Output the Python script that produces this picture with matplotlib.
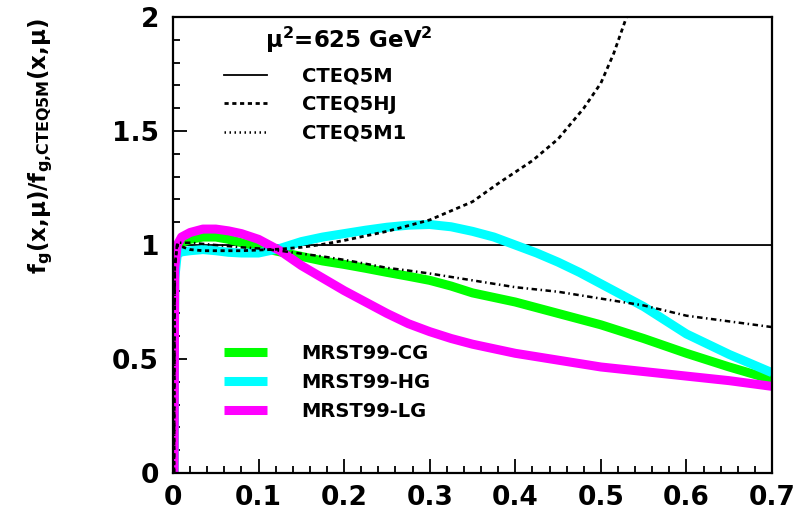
import matplotlib
matplotlib.use("Agg")
import matplotlib.pyplot as plt
from matplotlib.lines import Line2D
from matplotlib.ticker import MultipleLocator, FixedLocator

plt.rcParams['font.family'] = ['DejaVu Sans']
plt.rcParams['font.weight'] = 'bold'
plt.rcParams['mathtext.fontset'] = 'dejavusans'
plt.rcParams['mathtext.default'] = 'bf'

# gluon ratio to CTEQ5M at mu^2 = 625 GeV^2
x_grid = [0.0012, 0.002, 0.005, 0.01, 0.02, 0.035, 0.05, 0.065, 0.08, 0.1,
          0.125, 0.15, 0.175, 0.2, 0.225, 0.25, 0.275, 0.3, 0.325, 0.35,
          0.375, 0.4, 0.425, 0.45, 0.475, 0.5, 0.55, 0.6, 0.65, 0.7]

cteq5m = [0.0] + [1.0] * 29
cteq5m1 = [0.0, 0.90, 1.01, 1.01, 1.01, 1.005, 1.0, 0.995, 0.99, 0.985,
           0.975, 0.962, 0.95, 0.935, 0.918, 0.90, 0.888, 0.875, 0.86, 0.845,
           0.83, 0.815, 0.805, 0.795, 0.78, 0.765, 0.735, 0.69, 0.665, 0.64]
mrst_cg = [0.0, 0.90, 0.99, 1.01, 1.025, 1.035, 1.035, 1.025, 1.01, 0.99,
           0.97, 0.95, 0.93, 0.915, 0.898, 0.88, 0.863, 0.845, 0.82, 0.79,
           0.77, 0.75, 0.725, 0.70, 0.675, 0.65, 0.59, 0.525, 0.465, 0.41]
mrst_hg = [0.0, 0.85, 0.96, 0.97, 0.975, 0.98, 0.975, 0.968, 0.965, 0.965,
           0.985, 1.015, 1.035, 1.05, 1.065, 1.078, 1.087, 1.09, 1.08, 1.06,
           1.035, 1.0, 0.965, 0.925, 0.88, 0.83, 0.73, 0.61, 0.52, 0.44]
mrst_lg = [0.0, 0.90, 1.0, 1.035, 1.055, 1.07, 1.07, 1.062, 1.05, 1.025,
           0.975, 0.91, 0.855, 0.80, 0.75, 0.70, 0.655, 0.62, 0.59, 0.565,
           0.545, 0.525, 0.51, 0.495, 0.48, 0.465, 0.445, 0.425, 0.405, 0.38]

# CTEQ5HJ runs off the top of the frame, so it has its own x values
x_hj = [0.0012, 0.002, 0.005, 0.02, 0.035, 0.06, 0.08, 0.1, 0.125, 0.15,
        0.175, 0.2, 0.25, 0.3, 0.35, 0.38, 0.42, 0.45, 0.48, 0.5, 0.515,
        0.53, 0.54]
cteq5hj = [0.0, 0.90, 1.0, 0.98, 0.975, 0.975, 0.975, 0.978, 0.982, 0.99,
           1.003, 1.02, 1.06, 1.11, 1.19, 1.27, 1.37, 1.465, 1.6, 1.71, 1.84,
           2.0, 2.1]

x_ticks = [0, 0.1, 0.2, 0.3, 0.4, 0.5, 0.6, 0.7]
x_ticklabels = ['0', '0.1', '0.2', '0.3', '0.4', '0.5', '0.6', '0.7']
y_ticks = [0, 0.5, 1, 1.5, 2]
y_ticklabels = ['0', '0.5', '1', '1.5', '2']

fig = plt.figure(figsize=(7.99, 5.14), dpi=100)
ax = fig.add_axes([0.2165, 0.0798, 0.7497, 0.887])

thick = dict(lw=6.5, solid_capstyle='butt', solid_joinstyle='round')
l_m, = ax.plot(x_grid, cteq5m, color='black', lw=1.3, zorder=1)
l_cg, = ax.plot(x_grid, mrst_cg, color='#00ff00', zorder=2, **thick)
l_hg, = ax.plot(x_grid, mrst_hg, color='#00ffff', zorder=2, **thick)
l_lg, = ax.plot(x_grid, mrst_lg, color='#ff00ff', zorder=2.5, **thick)
l_hj, = ax.plot(x_hj, cteq5hj, color='black', lw=2, dashes=(1.5, 1.3), zorder=3)
l_m1, = ax.plot(x_grid, cteq5m1, color='black', lw=1.8,
                dashes=(2.2, 1.4, 0.6, 1.4), zorder=3)

ax.set_xlim(0, 0.7)
ax.set_ylim(0, 2)

ax.xaxis.set_major_locator(FixedLocator(x_ticks))
ax.set_xticklabels(x_ticklabels)
ax.xaxis.set_minor_locator(MultipleLocator(0.02))
ax.yaxis.set_major_locator(FixedLocator(y_ticks))
ax.set_yticklabels(y_ticklabels)
ax.yaxis.set_minor_locator(MultipleLocator(0.1))

ax.tick_params(which='both', direction='in', top=False, right=False,
               labelsize=19, width=1.3)
ax.tick_params(which='major', length=10)
ax.tick_params(which='minor', length=5)
ax.tick_params(axis='x', which='major', pad=9)
ax.tick_params(axis='y', which='major', pad=10)
for s in ax.spines.values():
    s.set_linewidth(1.6)

ax.set_ylabel(r'$f_g(x{,}\mu)/f_{g{,}CTEQ5M}(x{,}\mu)$', fontsize=16.5)
ax.yaxis.set_label_coords(-0.197, 0.717)

ax.text(0.154, 0.932, r'$\mu^2$=625 GeV$^2$', transform=ax.transAxes,
        fontsize=16.5, ha='left', va='baseline')

hj_handle = Line2D([], [], color='black', lw=2, dashes=(1.5, 1.3))
m1_handle = Line2D([], [], color='black', lw=1.8, dashes=(0.6, 1.4, 0.6, 1.4))
leg_kw = dict(loc='upper left', frameon=False, fontsize=14, handlelength=2.2,
              handletextpad=1.8, borderaxespad=0, borderpad=0)
leg1 = ax.legend([l_m, hj_handle, m1_handle], ['CTEQ5M', 'CTEQ5HJ', 'CTEQ5M1'],
                 bbox_to_anchor=(0.085, 0.891), labelspacing=0.48, **leg_kw)
ax.add_artist(leg1)
ax.legend([l_cg, l_hg, l_lg], ['MRST99-CG', 'MRST99-HG', 'MRST99-LG'],
          bbox_to_anchor=(0.085, 0.283), labelspacing=0.51, **leg_kw)

fig.savefig('out.png', dpi=100)
